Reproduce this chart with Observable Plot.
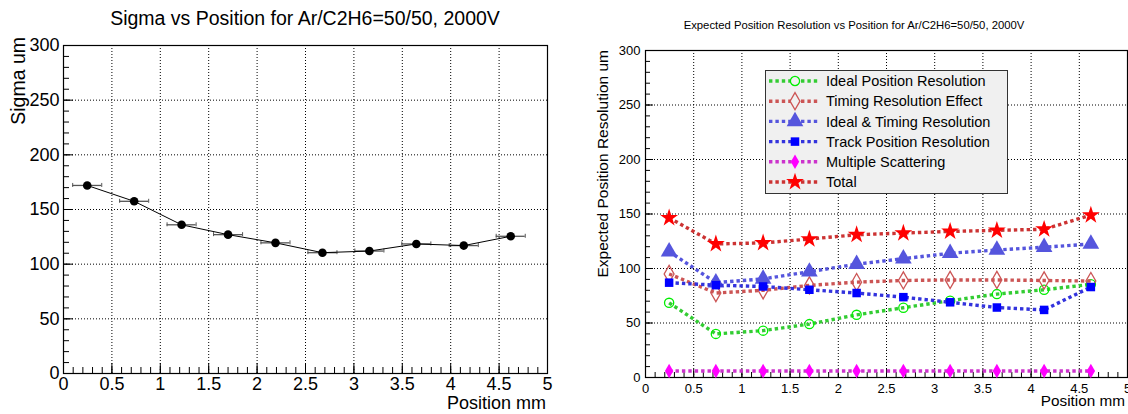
<!DOCTYPE html>
<html><head><meta charset="utf-8">
<script src="https://cdn.jsdelivr.net/npm/d3@7"></script>
<script src="https://cdn.jsdelivr.net/npm/@observablehq/plot@0.6"></script>
<style>
body{margin:0;background:#fff;}
#wrap{position:relative;width:1128px;height:414px;overflow:hidden;background:#fff;font-family:"Liberation Sans",Arial,Helvetica,sans-serif;}
.panel{position:absolute;top:0;}
#overlay{position:absolute;left:0;top:0;pointer-events:none;}
</style></head><body><div id="wrap"><div id="left" class="panel" style="left:0"></div><div id="right" class="panel" style="left:564px"></div></div>
<script>
// ---------- data ----------
const positions = [0.245, 0.73, 1.22, 1.70, 2.19, 2.675, 3.16, 3.645, 4.135, 4.62];
const sigma = [172, 157.5, 136, 127, 119.5, 110.5, 112, 118.5, 117, 125.5];
const positionErr = [0.15, 0.15, 0.15, 0.15, 0.15, 0.15, 0.15, 0.15, 0.15, 0.15];

const idealPosition = [68.5, 40, 43, 49, 57.5, 64, 70.5, 76.5, 80.5, 85.5];
const timingEffect = [95, 77.5, 80, 84.5, 87.5, 89, 89.5, 89.5, 89, 88.5];
const idealTiming = [115.5, 87, 90.5, 97, 104, 109, 114, 117, 119.5, 122.5];
const trackPosition = [87, 84.7, 83.5, 80.5, 77.5, 73.7, 69, 64.2, 62, 83];
const multipleScattering = [6, 6, 6, 6, 6, 6, 6, 6, 6, 6];
const total = [146.5, 122.5, 123.5, 127, 131, 132.5, 134, 135, 136, 149];

const seriesNames = ["Ideal Position Resolution", "Timing Resolution Effect", "Ideal & Timing Resolution", "Track Position Resolution", "Multiple Scattering", "Total"];
const seriesValues = [idealPosition, timingEffect, idealTiming, trackPosition, multipleScattering, total];

const xTickLabels = [0, 0.5, 1, 1.5, 2, 2.5, 3, 3.5, 4, 4.5, 5];
const yTickLabels = [0, 50, 100, 150, 200, 250, 300];

const leftTitle = "Sigma vs Position for Ar/C2H6=50/50, 2000V";
const rightTitle = "Expected Position Resolution vs Position for Ar/C2H6=50/50, 2000V";
const leftYLabel = "Sigma um";
const rightYLabel = "Expected Position Resolution um";
const xLabel = "Position mm";

// ---------- styles ----------
const styles = [
  {line: "#33cc33", color: "#00ee00", symbol: "circle", r: 4.6, open: true},
  {line: "#cc5555", color: "#cc5555", symbol: "diamond", r: 5.2, open: true},
  {line: "#5555dd", color: "#5555dd", symbol: "triangle", r: 6.2, open: false},
  {line: "#3333dd", color: "#0000ff", symbol: "square", r: 4.8, open: false},
  {line: "#cc33cc", color: "#ff00ff", symbol: "diamond", r: 4.4, open: false},
  {line: "#cc3333", color: "#ff0000", symbol: "star", r: 5.6, open: false}
];

const font = '"Liberation Sans", Arial, Helvetica, sans-serif';
const minorX = d3.range(0, 51).map(i => i / 10);
const minorY = d3.range(0, 31).map(i => i * 10);

function frameMarks(major, minor) {
  return [
    Plot.gridX(xTickLabels, {stroke: "#000", strokeOpacity: 1, strokeDasharray: "1,2"}),
    Plot.gridY(yTickLabels, {stroke: "#000", strokeOpacity: 1, strokeDasharray: "1,2"}),
    Plot.axisX(minorX, {tickSize: -minor, tickFormat: () => "", label: null, strokeWidth: 1}),
    Plot.axisX(xTickLabels, {tickSize: -major, tickFormat: () => "", label: null, strokeWidth: 1}),
    Plot.axisY(minorY, {tickSize: -minor, tickFormat: () => "", label: null, strokeWidth: 1}),
    Plot.axisY(yTickLabels, {tickSize: -major, tickFormat: () => "", label: null, strokeWidth: 1}),
    Plot.frame({stroke: "#000", strokeWidth: 1.2})
  ];
}

// ---------- left chart ----------
const leftRows = positions.map((x, i) => ({x, y: sigma[i], lo: x - positionErr[i], hi: x + positionErr[i]}));
const left = Plot.plot({
  width: 564, height: 414,
  marginLeft: 63, marginRight: 17, marginTop: 45, marginBottom: 41,
  style: {fontFamily: font, fontSize: "18px", background: "transparent", color: "#000"},
  x: {domain: [0, 5]},
  y: {domain: [0, 300]},
  marks: [
    ...frameMarks(10, 6),
    Plot.axisX(xTickLabels, {tickSize: 0, tickPadding: 4, tickFormat: d => String(d), label: null}),
    Plot.axisY(yTickLabels, {tickSize: 0, tickPadding: 4, tickFormat: d => String(d), label: null}),
    Plot.ruleY(leftRows, {y: "y", x1: "lo", x2: "hi", stroke: "#555", strokeWidth: 1.3}),
    Plot.ruleX(leftRows, {x: "lo", y1: "y", y2: "y", insetTop: -2, insetBottom: -2, stroke: "#555"}),
    Plot.ruleX(leftRows, {x: "hi", y1: "y", y2: "y", insetTop: -2, insetBottom: -2, stroke: "#555"}),
    Plot.line(leftRows, {x: "x", y: "y", stroke: "#000", strokeWidth: 1}),
    Plot.dot(leftRows, {x: "x", y: "y", r: 4.3, fill: "#000", stroke: "none"})
  ]
});
document.getElementById("left").append(left);

// ---------- right chart ----------
const rightMarks = [];
seriesValues.forEach((vals, k) => {
  const rows = positions.map((x, i) => ({x, y: vals[i], series: seriesNames[k]}));
  const s = styles[k];
  rightMarks.push(Plot.line(rows, {x: "x", y: "y", stroke: s.line, strokeWidth: 3.4, strokeDasharray: "3.4,3", strokeLinecap: "butt", strokeLinejoin: "miter"}));
  rightMarks.push(Plot.dot(rows, s.open
    ? {x: "x", y: "y", symbol: s.symbol, r: s.r, stroke: s.color, strokeWidth: 1.3, fill: "none"}
    : {x: "x", y: "y", symbol: s.symbol, r: s.r, fill: s.color, stroke: "none"}));
});
const right = Plot.plot({
  width: 564, height: 414,
  marginLeft: 81, marginRight: 1, marginTop: 50, marginBottom: 37,
  style: {fontFamily: font, fontSize: "13px", background: "transparent", color: "#000"},
  x: {domain: [0, 5]},
  y: {domain: [0, 300]},
  marks: [
    ...frameMarks(8, 5),
    Plot.axisX(xTickLabels, {tickSize: 0, tickPadding: 6, tickFormat: d => String(d), label: null}),
    Plot.axisY(yTickLabels, {tickSize: 0, tickPadding: 5, tickFormat: d => String(d), label: null}),
    ...rightMarks
  ]
});
document.getElementById("right").append(right);

// ---------- overlay text + legend ----------
const ov = d3.select("#wrap").append("svg").attr("id", "overlay")
  .attr("width", 1128).attr("height", 414).style("font-family", font);
ov.append("text").attr("x", 305).attr("y", 25).attr("text-anchor", "middle").attr("font-size", 19.5).text(leftTitle);
ov.append("text").attr("x", 854).attr("y", 29).attr("text-anchor", "middle").attr("font-size", 11.3).text(rightTitle);
ov.append("text").attr("x", 546).attr("y", 409).attr("text-anchor", "end").attr("font-size", 18).text(xLabel);
ov.append("text").attr("x", 1125).attr("y", 406).attr("text-anchor", "end").attr("font-size", 15.3).text(xLabel);
ov.append("text").attr("transform", "translate(25,37) rotate(-90)").attr("text-anchor", "end").attr("font-size", 19.5).text(leftYLabel);
ov.append("text").attr("transform", "translate(608,50) rotate(-90)").attr("text-anchor", "end").attr("font-size", 15.5).text(rightYLabel);

const lg = ov.append("g");
lg.append("rect").attr("x", 765.5).attr("y", 70.5).attr("width", 242).attr("height", 123)
  .attr("fill", "#f0f0f0").attr("stroke", "#333").attr("stroke-width", 1);
const symMap = {circle: d3.symbolCircle, diamond: d3.symbolDiamond, triangle: d3.symbolTriangle, square: d3.symbolSquare, star: d3.symbolStar};
seriesNames.forEach((name, k) => {
  const s = styles[k];
  const cy = 81 + k * 20.2;
  lg.append("line").attr("x1", 769).attr("x2", 818).attr("y1", cy).attr("y2", cy)
    .attr("stroke", s.line).attr("stroke-width", 3.4).attr("stroke-dasharray", "3.4,3");
  const p = lg.append("path").attr("transform", `translate(795,${cy})`)
    .attr("d", d3.symbol(symMap[s.symbol], Math.PI * s.r * s.r)());
  if (s.open) p.attr("fill", "#f0f0f0").attr("stroke", s.color).attr("stroke-width", 1.3);
  else p.attr("fill", s.color);
  lg.append("text").attr("x", 826).attr("y", cy + 5.2).attr("font-size", 14.5).text(name);
});
</script></body></html>
